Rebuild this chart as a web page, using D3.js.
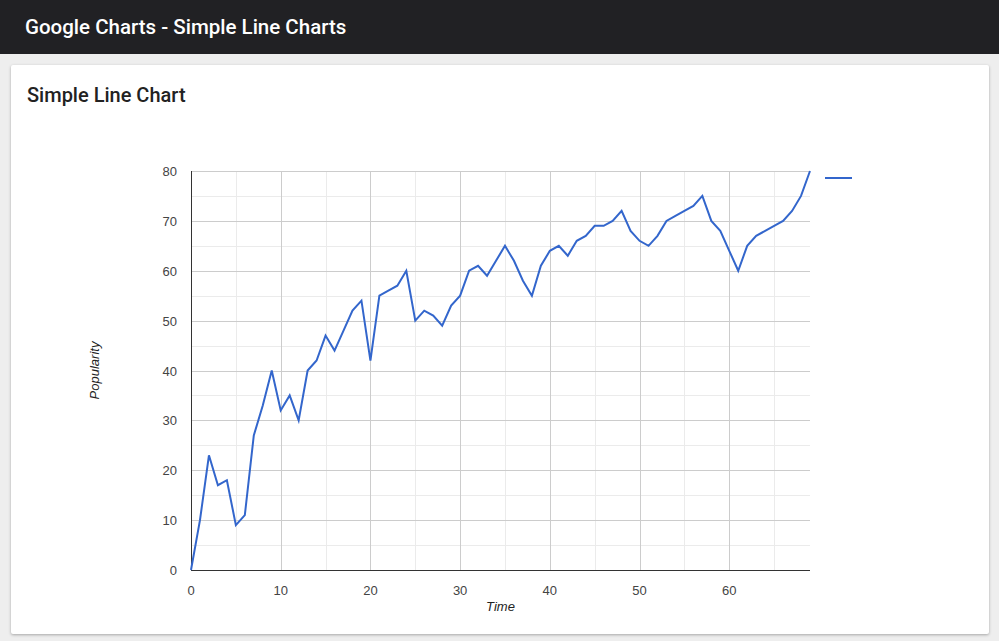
<!DOCTYPE html>
<html>
<head>
<meta charset="utf-8">
<script src="https://cdn.jsdelivr.net/npm/d3@7"></script>
<style>
  body { margin: 0; background: #eeeeee; font-family: Roboto, Arial, sans-serif; }
  .topbar { height: 54px; background: #212124; color: #fff; font-size: 20.5px; font-weight: 500;
            line-height: 55px; padding-left: 25px; box-sizing: border-box; }
  .card { position: absolute; left: 11px; top: 65px; width: 978px; height: 569px; background: #fff;
          border-radius: 2px; box-shadow: 0 1px 3px rgba(0,0,0,0.3); }
  .card h3 { margin: 0; position: absolute; left: 16px; top: 18px; font-size: 20px; font-weight: 500; color: #222; }
  svg { position: absolute; left: 0; top: 0; }
</style>
</head>
<body>
<div class="topbar">Google Charts - Simple Line Charts</div>
<div class="card"><h3>Simple Line Chart</h3></div>
<svg width="999" height="641"></svg>
<script>
// data from the chart
var time = d3.range(0, 70);
var popularity = [0, 10, 23, 17, 18, 9, 11, 27, 33, 40, 32, 35, 30, 40, 42, 47, 44, 48, 52, 54,
  42, 55, 56, 57, 60, 50, 52, 51, 49, 53, 55, 60, 61, 59, 62, 65, 62, 58, 55, 61,
  64, 65, 63, 66, 67, 69, 69, 70, 72, 68, 66, 65, 67, 70, 71, 72, 73, 75, 70, 68,
  64, 60, 65, 67, 68, 69, 70, 72, 75, 80];
var xTicks = [0, 10, 20, 30, 40, 50, 60];
var yTicks = [0, 10, 20, 30, 40, 50, 60, 70, 80];

var plotLeft = 191, plotRight = 810, plotTop = 171, plotBottom = 570;

var svg = d3.select("svg");

var x = d3.scaleLinear().domain([0, 69]).range([plotLeft, plotRight]);
var y = d3.scaleLinear().domain([0, 80]).range([plotBottom, plotTop]);

var g = svg.append("g").attr("shape-rendering", "crispEdges");

// minor gridlines
var xMinor = d3.range(5, 69, 10);
var yMinor = d3.range(5, 80, 10);
g.selectAll(".xm").data(xMinor).enter().append("line")
  .attr("x1", function(d) { return Math.round(x(d)) + 0.5; })
  .attr("x2", function(d) { return Math.round(x(d)) + 0.5; })
  .attr("y1", plotTop).attr("y2", plotBottom).attr("stroke", "#ebebeb");
g.selectAll(".ym").data(yMinor).enter().append("line")
  .attr("y1", function(d) { return Math.round(y(d)) + 0.5; })
  .attr("y2", function(d) { return Math.round(y(d)) + 0.5; })
  .attr("x1", plotLeft).attr("x2", plotRight).attr("stroke", "#ebebeb");

// major gridlines
g.selectAll(".xg").data(xTicks.slice(1)).enter().append("line")
  .attr("x1", function(d) { return Math.round(x(d)) + 0.5; })
  .attr("x2", function(d) { return Math.round(x(d)) + 0.5; })
  .attr("y1", plotTop).attr("y2", plotBottom).attr("stroke", "#cccccc");
g.selectAll(".yg").data(yTicks.slice(1)).enter().append("line")
  .attr("y1", function(d) { return Math.round(y(d)) + 0.5; })
  .attr("y2", function(d) { return Math.round(y(d)) + 0.5; })
  .attr("x1", plotLeft).attr("x2", plotRight).attr("stroke", "#cccccc");

// baselines
g.append("line").attr("x1", plotLeft + 0.5).attr("x2", plotLeft + 0.5)
  .attr("y1", plotTop).attr("y2", plotBottom + 1).attr("stroke", "#333");
g.append("line").attr("x1", plotLeft).attr("x2", plotRight)
  .attr("y1", plotBottom + 0.5).attr("y2", plotBottom + 0.5).attr("stroke", "#333");

// tick labels
svg.selectAll(".ylab").data(yTicks).enter().append("text")
  .attr("x", plotLeft - 14).attr("y", function(d) { return y(d) + 5; })
  .attr("text-anchor", "end").attr("font-family", "Arial, Liberation Sans").attr("font-size", 13).attr("fill", "#444")
  .text(function(d) { return d; });
svg.selectAll(".xlab").data(xTicks).enter().append("text")
  .attr("x", function(d) { return x(d); }).attr("y", plotBottom + 25)
  .attr("text-anchor", "middle").attr("font-family", "Arial, Liberation Sans").attr("font-size", 13).attr("fill", "#444")
  .text(function(d) { return d; });

// axis titles
svg.append("text").attr("x", (plotLeft + plotRight) / 2).attr("y", 611)
  .attr("text-anchor", "middle").attr("font-family", "Arial, Liberation Sans").attr("font-size", 13)
  .attr("font-style", "italic").attr("fill", "#222").text("Time");
svg.append("text").attr("transform", "translate(99," + (plotTop + plotBottom) / 2 + ") rotate(-90)")
  .attr("text-anchor", "middle").attr("font-family", "Arial, Liberation Sans").attr("font-size", 13)
  .attr("font-style", "italic").attr("fill", "#222").text("Popularity");

// the line
var line = d3.line()
  .x(function(d, i) { return x(time[i]); })
  .y(function(d) { return y(d); });
svg.append("path").datum(popularity)
  .attr("d", line).attr("fill", "none").attr("stroke", "#3366cc").attr("stroke-width", 2);

// legend (no label)
svg.append("line").attr("x1", 825).attr("x2", 852).attr("y1", 178).attr("y2", 178)
  .attr("stroke", "#3366cc").attr("stroke-width", 2);
</script>
</body>
</html>
